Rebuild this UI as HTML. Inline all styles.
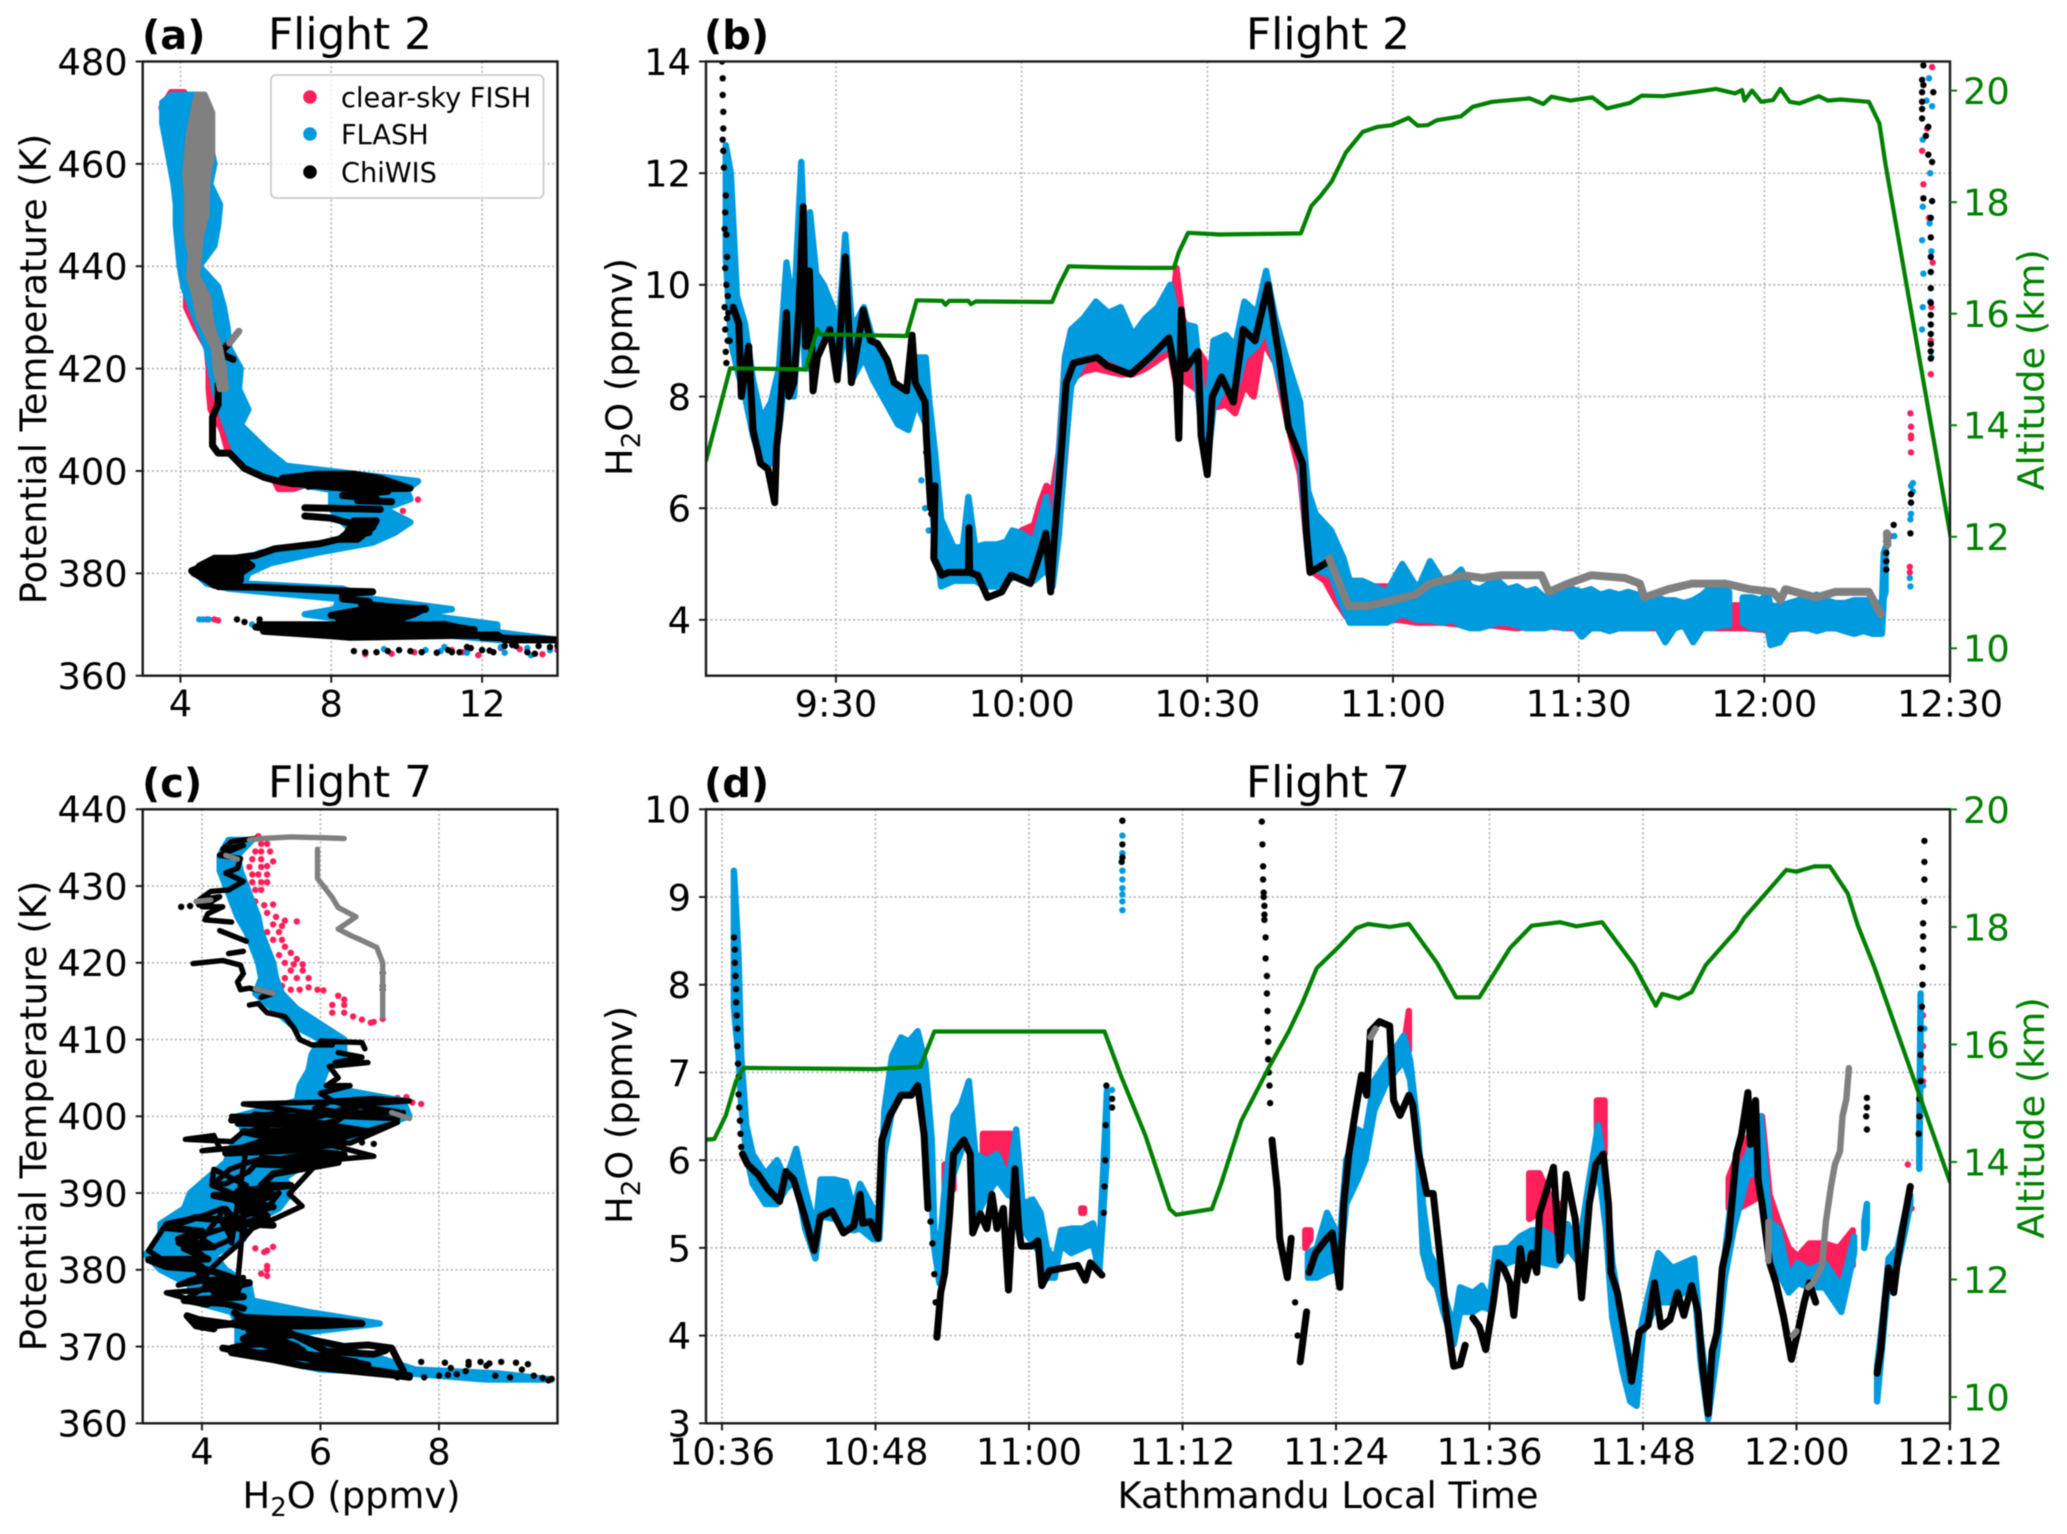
<!DOCTYPE html>
<html>
<head>
<meta charset="utf-8">
<title>Water vapour by flight</title>
<style>
html,body{margin:0;padding:0;background:#fff;}
svg{display:block;font-family:"DejaVu Sans","Liberation Sans",sans-serif;filter:blur(0.5px);}
</style>
</head>
<body>
<svg id="fig" xmlns="http://www.w3.org/2000/svg" width="2067" height="1534" viewBox="0 0 2067 1534">
<defs>
<clipPath id="clip-a"><rect x="142.7" y="61.5" width="414.8" height="614.2"/></clipPath>
<clipPath id="clip-b"><rect x="706" y="61.5" width="1244" height="614.2"/></clipPath>
<clipPath id="clip-c"><rect x="142.7" y="809.3" width="414.8" height="614"/></clipPath>
<clipPath id="clip-d"><rect x="706" y="809.3" width="1244" height="614"/></clipPath>
</defs>
<rect width="2067" height="1534" fill="#fff"/>
<g id="layer"></g>
<g fill="#000">
<text x="142" y="49" font-size="40" font-weight="bold">(a)</text>
<text x="350" y="49" font-size="43.8" text-anchor="middle">Flight 2</text>
<text x="704" y="49" font-size="40" font-weight="bold">(b)</text>
<text x="1328" y="49" font-size="43.8" text-anchor="middle">Flight 2</text>
<text x="142" y="797" font-size="40" font-weight="bold">(c)</text>
<text x="350" y="797" font-size="43.8" text-anchor="middle">Flight 7</text>
<text x="704" y="797" font-size="40" font-weight="bold">(d)</text>
<text x="1328" y="797" font-size="43.8" text-anchor="middle">Flight 7</text>
</g>
<g font-size="36.8">
<text transform="translate(46,369) rotate(-90)" text-anchor="middle">Potential Temperature (K)</text>
<text transform="translate(46,1116) rotate(-90)" text-anchor="middle">Potential Temperature (K)</text>
<text transform="translate(632,367) rotate(-90)" text-anchor="middle">H<tspan font-size="26" dy="8">2</tspan><tspan dy="-8">O (ppmv)</tspan></text>
<text transform="translate(632,1115) rotate(-90)" text-anchor="middle">H<tspan font-size="26" dy="8">2</tspan><tspan dy="-8">O (ppmv)</tspan></text>
<text transform="translate(2044,370) rotate(-90)" text-anchor="middle" fill="#008000">Altitude (km)</text>
<text transform="translate(2044,1118) rotate(-90)" text-anchor="middle" fill="#008000">Altitude (km)</text>
<text x="351.5" y="1508" text-anchor="middle">H<tspan font-size="26" dy="8">2</tspan><tspan dy="-8">O (ppmv)</tspan></text>
<text x="1328" y="1508" text-anchor="middle">Kathmandu Local Time</text>
</g>
<g>
<rect x="271" y="75" width="272.5" height="123" rx="5" fill="#fff" fill-opacity="0.8" stroke="#cccccc" stroke-width="1.8"/>
<circle cx="310" cy="97" r="6.8" fill="#ff1f5b"/>
<text x="341" y="107" font-size="27.2">clear-sky FISH</text>
<circle cx="310" cy="134" r="6.8" fill="#009ade"/>
<text x="341" y="144" font-size="27.2">FLASH</text>
<circle cx="310" cy="172" r="6.8" fill="#000"/>
<text x="341" y="182" font-size="27.2">ChiWIS</text>
</g>
</svg>
<script>
/* ===== Panel (a): Flight 2 profile, H2O (ppmv) against potential temperature (K) ===== */
const a_x_ticks=[4,8,12];
const a_y_ticks=[360,380,400,420,440,460,480];
const a_fish_theta=[474,471,465,460,450,440,436,432,428,424,420,416,412,408,404,401,398,396.5];
const a_fish_low=[3.75,3.5,3.7,3.85,4.0,4.1,4.15,4.15,4.4,4.7,4.75,4.75,4.8,5.1,5.25,6.0,6.5,6.6];
const a_fish_high=[4.1,3.9,4.0,4.1,4.4,4.5,4.5,4.7,4.9,5.2,5.2,5.1,5.2,5.4,5.8,6.5,7.6,7.0];
const a_fish_dots_h2o=[10.3,10.0,9.9,4.7,4.9,5.0,11.2,11.5,11.9,12.5,13.0,13.6,10.2,9.6,8.9,14,9.4];
const a_fish_dots_theta=[394.4,394.6,392.2,371,371,370.8,365,364.6,364,365.4,365.2,364.2,364.6,364.3,364.2,365,391.8];
const a_flash_theta=[473.5,472,468,464,460,456,452,448,444,440,436,432,428,424,420,416,412,409,404,401,398,396.3,394.5,392.6,390,388,386,384,382,380,378,377,375,373,372,370,368.5,367];
const a_flash_low=[3.78,3.52,3.52,3.62,3.72,3.82,3.88,3.88,3.93,3.98,4.08,4.28,4.49,4.69,4.79,4.9,5.05,5.2,5.45,5.8,6.6,8,8,8,8.3,8.6,8,6.1,5.5,4.4,4.7,5.3,8.2,8.1,7.3,9.3,10.2,12.4];
const a_flash_high=[4.49,4.59,4.74,4.79,4.9,4.79,5.05,5.0,4.9,4.5,5.0,5.15,5.25,5.3,5.6,5.55,5.8,5.6,6.3,6.8,10.3,10,10.1,9.4,10.1,9.7,9.1,7.6,6.4,5.8,5.7,8.3,9.1,11.2,10.3,12.4,12.4,14];
const a_flash_dots_h2o=[4.5,4.6,4.75,5.9,9.4,10.5,11,12,12.6,13.2,13.8,13.3,11.6,12.5,10.9,9.8];
const a_flash_dots_theta=[371,371,371,370,365.2,365,365.6,365,364.5,365.4,365,364,364.5,365.6,364.8,365];
const a_chiwis_h2o=[5.0,5.0,4.85,4.85,5.0,5.3,5.7,6.2,6.6,7,8,7.4,8.6,8,9.2,9,10,8.6,9.5,8.3,9.2,8.7,9.6,null,7.3,8.6,9.3,null,7.3,8,8.4,9.1,8.5,9.0,8.5,7.7,6.5,6,5,4.3,5,5.7,4.9,5.4,4.8,5,6,7,8.5,9.1,8.3,8.3,9,8.8,9.5,10.5,8,9,9.9,8.4,8.8,9.6,null,6,7,11,11.6,6.2,8,8.5,12.4,12.6,14,12];
const a_chiwis_theta=[417,413,410.5,405,403.5,403.5,400.5,398.8,398,397.5,399,397,398.5,396.8,398.3,396.5,396.6,397.5,396,395.2,394.6,394.2,394,null,392.8,392.6,392.5,null,391.2,390.8,390,389,389.5,388,387.2,385.8,384.8,383.5,382.5,380.5,381,381.5,379.5,380,378.5,377.4,377.3,377,376.5,376.4,376,375,374.5,374,373.5,373,371.8,371,371.5,372,370.5,370,null,369.5,368.8,370,369,368.7,367.8,367.5,368,367,367,367.5];
const a_chiwis_blob_theta=[399.4,398.6,397.6,396.6,null,390.3,389,387.8,386.6,null,383,381.5,380,378.6,377.6,null,373.2,372,371,null,370,369,368];
const a_chiwis_blob_low=[7.6,6.7,6.9,8.3,null,8.6,8.5,8.4,8.2,null,4.9,4.5,4.35,4.7,4.9,null,9.0,8.1,8.2,null,6.2,6.3,7.9];
const a_chiwis_blob_high=[8.6,9.3,9.7,10.1,null,9.2,9.1,8.9,8.7,null,5.6,5.9,5.6,5.6,5.4,null,10.5,10.2,9.8,null,10.8,11.8,10.5];
const a_chiwis_branch_h2o=[5.3,5.05,5.4];
const a_chiwis_branch_theta=[425,423,421.8];
const a_chiwis_dots_h2o=[5.5,5.7,6.1,6.1,8.6,8.9,9.2,9.5,9.8,10.1,10.4,10.8,11.1,11.4,11.7,12,12.3,12.6,12.9,13.2,13.5,13.8,14,11.2,11.6,12.2,12.8,13.4];
const a_chiwis_dots_theta=[371,370.5,371,370.3,364.8,364.6,364.6,364.8,365,364.8,364.6,364.5,365,364.6,365.4,365,364.6,365.8,365.8,364.6,365.8,365.6,365.8,364.6,365.6,364.9,366,364.3];
const a_gray_theta=[473.5,470,466,462,458,454,450,446,442,438,434,430,427,424,420,416];
const a_gray_low=[4.44,4.34,4.23,4.18,4.13,4.18,4.18,4.18,4.28,4.23,4.39,4.49,4.69,4.89,4.94,5.05];
const a_gray_high=[4.64,4.84,4.84,4.84,4.74,4.69,4.69,4.54,4.49,4.44,4.74,4.79,4.89,5.05,5.15,5.2];
const a_gray_branch_h2o=[5.55,5.3];
const a_gray_branch_theta=[427.3,425];

/* ===== Panel (b): Flight 2 time series, time in minutes after midnight ===== */
const b_x_ticks=[570,600,630,660,690,720,750];
const b_x_labels=["9:30","10:00","10:30","11:00","11:30","12:00","12:30"];
const b_y_ticks=[4,6,8,10,12,14];
const b_alt_ticks=[10,12,14,16,18,20];
const b_fish_time=[598,600,602,603,604,605,606,607,608,610,612,614,616,618,620,622,624,625,626,628,631,633,634.5,636,637.5,639,641,643,645,646.5,649,651,652.5,655,657,659,661,664,668,672,676,680,684,688,692,696,700,704,708,712,714,715,716.4,717,722,726,730,734,739];
const b_fish_low=[4.9,5,5,5.3,5,5,5.6,6.9,8.3,8.45,8.5,8.45,8.4,8.4,8.5,8.65,8.8,8.2,8.3,8.15,7.8,7.85,7.7,8.2,8,9,8.6,7.5,6.6,4.9,4.7,4.3,4.05,4.05,4.05,4,4,3.95,3.95,3.9,3.9,3.85,3.9,3.85,3.85,3.85,3.85,3.85,3.9,3.85,3.85,3.85,3.85,3.85,3.8,3.85,3.85,3.85,3.8];
const b_fish_high=[5.3,5.6,5.7,6.1,6.4,6.3,7,8.7,9.2,9.3,9.6,9.4,9.2,8.9,8.9,8.9,9.2,10.3,9.4,8.9,8.4,8.4,8.2,8.8,9.5,9.7,9.4,8.4,7.7,5.5,5.1,4.9,4.4,4.35,4.6,4.6,4.2,4.2,4.15,4.1,4.1,4.1,4.1,4.1,4.1,4.1,4.1,4.1,4.1,4.1,4.1,4.26,4.26,4.1,4.1,4.1,4.1,4.1,4.1];
const b_fish_dots_time=[743.6,743.7,743.7,743.7,743.7,743.5,743.5,740.4,747,746.9,747.2,746.6,746.3,745.5,745.7,747.1,746.9];
const b_fish_dots_v=[7.7,7.46,7.3,7.25,7,4.95,4.85,5.5,9.6,9,10.4,11.2,12.8,12.4,11.8,13.9,8.4];
const b_flash_time=[552.2,553,554,555.3,556.6,558,559.5,560.8,562,563.2,564.4,565,565.8,566.8,568,569.5,570.3,571.5,572.6,574.5,576,578,580,581.7,583,584.5,585,586,587,589,590.5,591.4,592.5,594,596,597.5,598.5,600,602,604,605,606,607,608,610,612,614,616,618,620,622,624,625,626,628,629,630,631,633,634.5,636,638,639.5,641,643,645,646.3,647.5,650,652,653,655,657,659,661.5,664,666,668,669.5,671,672.5,674,675.5,677,678.5,680,681.5,683,684.5,686,687.5,689,690.5,692,693.5,695,696.5,698,699.5,701,702.5,704,705.5,707,708.5,710,711.5,713,714.3,null,716.5,718,719.5,720.5,721,722.5,724,725.5,727,728.5,730,731.5,733,734.5,736,737.5,739,739.3,739.6];
const b_flash_low=[10.5,9,8.5,8,7.3,6.8,6.8,7.4,8.6,8,10,8.5,8.5,8.8,9.2,9,8.4,9.3,8.3,8.7,8.3,7.9,7.5,7.4,7.9,7.5,6.5,5.5,4.6,4.7,4.7,4.7,4.7,4.6,4.6,4.7,4.75,4.8,4.7,4.9,4.6,5.5,7,8.2,8.6,8.8,8.7,8.6,8.45,8.6,8.8,8.9,8.7,8.6,8.6,7.5,6.8,7.8,8.2,8.1,8.7,8.9,9.2,8.6,7.7,6.9,5.1,4.9,4.8,4.2,3.95,3.95,3.95,3.95,4.1,4,4,3.95,4,3.9,3.85,3.85,3.9,3.95,3.95,3.9,3.85,3.85,3.85,3.9,3.85,3.9,3.7,3.85,3.85,3.8,3.85,3.85,3.85,3.85,3.9,3.6,3.85,3.9,3.6,3.85,3.85,3.9,3.9,null,3.95,3.85,3.85,3.85,3.55,3.6,3.85,3.85,3.85,3.8,3.85,3.85,3.8,3.75,3.8,3.75,3.75,4.4,4.5];
const b_flash_high=[12.5,12,9.8,9.3,8.3,7.6,7.9,8.5,10.4,9.5,12.2,10.5,11.3,10.2,10,9.6,9,10.9,9.2,9.6,9,8.5,8.1,7.9,8.7,8.7,8,7,5.8,5.3,5.3,6.2,5.3,5.35,5.35,5.4,5.6,5.55,5.4,6.2,5.3,6.9,8.7,9.2,9.4,9.7,9.5,9.6,9.1,9.4,9.6,10,9.5,9.3,9.25,8.2,7.8,9,9.1,8.9,9.7,9.5,10.25,9.4,8.6,7.9,6.3,5.9,5.6,5.1,4.7,4.7,4.6,4.5,5,4.55,5.05,4.7,4.75,4.9,4.6,4.55,4.65,4.7,4.55,4.6,4.5,4.55,4.4,4.45,4.55,4.55,4.5,4.55,4.45,4.5,4.45,4.5,4.45,4.3,4.4,4.35,4.35,4.3,4.35,4.45,4.6,4.55,4.5,null,4.4,4.4,4.35,4.5,4.25,4.25,4.3,4.35,4.4,4.45,4.35,4.3,4.3,4.35,4.35,4.35,4.25,5.2,5.3];
const b_flash_dots_time=[744,744,743.6,743.5,743.6,743.7,743.7,743.7,741,745.5,745.6,745.7,745.5,745.6,746.8,746.7,747,747.1,746.6,746.8,747,745.6,746.2,583.8,584.4,585,585,585.6,585.9,586,586.2,586.3,586.5,586.6];
const b_flash_dots_v=[6.45,6.3,5.8,4.75,4.6,5.9,6.1,6.4,5.5,9.2,9.6,10.2,10.8,11.4,12,11.1,10.6,13.2,13.7,9.7,8.7,12.6,13.3,6.5,6.0,5.6,7,6.6,6.1,7.0,5.7,6.4,5.3,6.0,5.1];
const b_chiwis_time=[553.4,554.3,554.7,555.9,556.6,557.8,559,560.1,560.4,560.9,562,562.4,563.2,564,564.7,565.1,565.7,566.3,567,569,570.2,571.5,572.5,574.4,575.6,576.7,578.3,579.4,581.4,582.3,582.8,584.4,584.6,585.3,586,585.8,587.1,588.2,591.4,591.5,591.6,592.9,594.5,596.8,598.3,601.4,603,603.9,604.7,605.3,606,607.2,608.4,612.2,613.8,617.6,620.7,623.8,625,625.4,625.8,626.5,628.5,629,630,630.8,632.3,634.2,635.8,637.7,639.8,641.6,643.1,645.4,646,646.6,649.7];
const b_chiwis_v=[9.6,9.3,8,8.9,7.4,6.8,6.7,6.1,7.1,7.6,9.5,8,8.25,9.55,11.4,8.9,10.25,8.1,8.7,9.2,8.3,10.5,8.25,9.55,9,8.95,8.65,8.25,8.1,9.1,8.25,7.9,7.3,6,6.4,5.1,4.8,4.85,4.85,5.65,4.85,4.8,4.4,4.5,4.8,4.65,5.2,5.55,4.5,5.5,6.4,8.25,8.6,8.7,8.55,8.4,8.7,9.05,8.3,7.25,9.55,8.5,8.8,7.3,6.6,8,8.35,7.9,9.2,9,10,8.7,7.45,6.8,5.6,4.85,5.05];
const b_chiwis_dots_time=[551.6,551.7,551.7,551.8,551.8,551.7,551.8,551.9,552.2,552.1,552,552.3,552.4,552.1,552.3,552.5,552,552.4,552.1,552.5,552.2,552.3,552.6,552.8,584.6,584.9,585.2,585.4,745.7,745.5,745.7,745.5,745.5,745.5,745.5,746.5,746.1,747.3,747.1,746.5,747.1,745.7,746.9,746.9,746.9,746.9,746.9,746.9,746.9,746.9,746.9,746.9,746.9,746.9,739.7,739.7,739.7,739.7,740.9,743.6,743.7,743.7];
const b_chiwis_dots_v=[14,13.7,13.4,13.1,12.8,12.6,12.4,12.1,11.6,11.3,11,10.9,10.5,10.3,10,9.8,9.6,9.4,9.2,9,8.8,8.6,9.5,9,7,6.6,6.2,5.9,13.93,13.67,13.58,13.45,13.28,13.15,12.98,12.83,12.67,13.45,12.2,12.33,11.5,11.55,11.2,10.85,10.5,10.23,9.94,9.68,9.46,9.29,9.12,8.94,8.81,8.68,5.4,5.2,5.05,4.9,5.7,5.55,6.1,6.25];
const b_gray_time=[649.7,652.8,656,660,663.6,666,671.3,674.4,677.5,684,685.2,688.3,692,697.5,699.9,700.6,704.5,708.3,713.7,717.6,721.4,722.6,723.4,728.4,731.5,736.9,738.8,null,739.8,739.9];
const b_gray_v=[5.1,4.25,4.25,4.35,4.45,4.65,4.8,4.75,4.8,4.8,4.5,4.65,4.8,4.75,4.65,4.4,4.55,4.65,4.65,4.55,4.5,4.35,4.55,4.4,4.5,4.5,4.1,null,5.55,5.35];
const b_alt_time=[549,552.9,565.1,567,567.4,581.4,583.05,587.2,587.7,588.3,591.4,591.8,592.6,604.9,606,607.6,613.8,620.7,624.6,625.4,626.9,632,645.1,646.8,648.2,650.1,652.4,655.1,657.5,659.8,662.5,664,665.6,667.1,671,672.9,676,682.1,684.3,685.6,688.7,692.2,694.6,698.3,700.2,703.7,708.3,712.2,715.3,716.4,716.8,718,719.5,721.4,722.6,724.1,725.7,728.8,730.3,732.3,736.9,738.6,739.6,750.1];
const b_alt_km=[13.37,15.02,15,15.72,15.63,15.6,16.24,16.23,16.16,16.23,16.23,16.17,16.22,16.21,16.5,16.85,16.83,16.82,16.82,17.1,17.45,17.42,17.44,17.93,18.1,18.37,18.89,19.26,19.35,19.38,19.51,19.37,19.38,19.47,19.54,19.71,19.8,19.86,19.76,19.89,19.82,19.88,19.68,19.78,19.91,19.9,19.97,20.03,19.95,20.01,19.82,20,19.8,19.83,20.03,19.8,19.77,19.9,19.82,19.84,19.8,19.41,18.67,12];

/* ===== Panel (c): Flight 7 profile ===== */
const c_x_ticks=[4,6,8];
const c_y_ticks=[360,370,380,390,400,410,420,430,440];
const c_fish_h2o=[4.95,5.0,5.1,4.9,5.0,5.15,4.85,5.0,5.2,4.8,5.0,5.1,4.85,4.95,5.1,4.85,5.0,5.1,4.9,5.0,4.9,5.05,5.2,4.9,5.1,5.25,5.4,5.6,5.2,5.35,5.1,5.3,5.2,5.35,5.4,5.3,5.5,5.6,5.4,5.55,5.7,5.5,5.7,5.4,5.6,5.8,5.35,5.5,5.65,5.8,5.95,6.05,6.3,6.4,6.2,6.4,6.2,6.4,6.55,6.7,6.9,7.05,6.85,5.05,5.1,5.2,5.05,4.9,5.1,5.1,5.0,5.1,7.45,7.55,7.7,7.3,5.75,5.9,6.0];
const c_fish_theta=[436.5,435.5,435.5,434.5,434.5,434.5,433.5,433.5,433.2,432.5,432.5,432.6,431.5,431.5,431.5,430.5,430.5,430.5,429.5,429.5,428,427.5,427.6,427,426.5,426,425.5,425.4,425,424.8,424,424,423,423,422.1,421,421.3,420.5,420,419.8,419.8,419,419,418,418,418,417,416.5,416.5,416.8,416.5,416.4,415.7,415.2,414.5,414.5,413.5,413.5,413,412.6,412.3,412.7,412.2,418.5,382.5,383,382.3,382.8,380.5,380,379.5,379.2,402.5,401.8,401.6,402.4,395.8,395.6,400];
const c_flash_theta=[436,434,432,430,428,426,424,422,420,418,416,414,412,410,408,406,404,402,400,398,396,394,392,390,388,386,384,382,380,378,376,374.5,373,371.5,370,368.5,367,366.5,365.7];
const c_flash_low=[4.45,4.3,4.3,4.4,4.5,4.6,4.75,4.85,4.95,5,4.9,5.2,5.5,6,5.85,5.8,5.65,5.6,4.6,4.7,4.5,4.4,4.1,3.8,3.7,3.3,3.3,3.05,3.3,3.8,3.8,4.5,4.6,4.6,4.6,5.1,6,7.5,8.8];
const c_flash_high=[4.85,4.6,4.65,4.75,4.85,4.95,5,5.1,5.2,5.25,5.35,5.6,6,6.4,6.4,6.1,6,7.4,7.5,6.7,6.3,5.8,5.4,5.5,5.3,4.8,4.7,4.2,4.4,4.8,4.85,5.8,7,5.4,6.2,7,7.6,9,9.9];
const c_chiwis_h2o=[4.9,4.5,4.35,4.7,4.3,4.65,4.6,4.4,4.7,4.45,4.15,3.95,4.3,4.0,4.35,4.1,4.05,4.5,null,4.3,4.75,null,4.45,4.7,null,3.85,4.35,4.65,4.7,4.6,4.65,4.8,5.2,5.0,null,4.8,4.95,5.1,5.4,5.55,5.65,5.85,6.2,6.0,6.7,6.75,null,6.3,6.7,6.25,6.8,6.15,6.3,6.1,6.5,6.0,6.2,6.9,7.5,6.5,7.4,6.4,5.9,6.2,6.6,6.3,5.9,5.1,4.6,4.9,5.5,4.8,5.6,6.3,7.3,6.5,5.8,5.0,4.4,5.2,6.2,6.9,6.0,5.0,5.9,6.08,5.63,5.47,5.69,5.24,4.85,4.6,4.34,4.08,4.05,3.69,4.08,4.6,4.7,4.2,4.4,3.95,3.4,4.2,3.9,3.7,4.0,3.6,4.2,4.4,4.5,4.2,4.0,4.3,4.35,4.0,3.4,3.1,3.4,3.95,3.7,4.0,4.1,3.75,3.6,4.1,4.6,4.3,4.15,4.05,4.4,4.6,4.75,4.2,4.17,4.4,4.79,4.98,4.79,4.47,4.17,4.5,4.3,4.8,4.9,4.6,5.0,5.3,4.7,4.55,5.1,4.7,4.9,4.35,4.75,4.4,4.5,4.75,4.0,4.3,4.2,3.72,4.5,4.7,6.3,5.2,4.65,6.3,5.6,4.5,6,6.8,4.7,5.3,6.3,7.3,7.5,6.9,6.1,6.4];
const c_chiwis_theta=[436.2,435.8,434.8,435.3,434,433.6,432.3,431.7,430.6,429.5,429.3,428.2,428.6,427.3,427.3,426.4,425.6,425.3,null,424.2,422.8,null,421.2,421.5,null,419.9,420.3,419.7,418.6,417.5,416.5,416.7,416,415.5,null,414.5,414.7,413.5,413,411.5,410,409.3,409.3,409.8,409.6,408.8,null,408.3,407.7,407,407,406.5,405,404,404,403,402,402.3,402,401.5,400.5,400.5,401,402,401,399.5,398.8,400,399,400.3,399.8,398,398,397,399.2,396.5,397,396.8,395.3,395.6,396.2,394.8,394.2,394.6,394,395,391.2,389.9,388.3,386.7,385.4,383.2,381.5,379.6,377.7,376,375.4,377,379,378,376.5,375.8,377,377.5,380,380.8,382,383.5,385,385.5,384,383,384,387,388,387,386,382.5,381,380.5,381.3,380.5,379.5,378.5,378,378.7,379,378,376,375.5,376.5,378,391,393.1,391.2,391.2,392.8,394.4,394,393.1,391,390,389.6,390,389,388,387,390,388,389,390,389,387.5,386,385,388,383.5,396,395.5,395.8,397.5,397,396.7,398,398.5,399.3,399,398.7,399.8,400,400,402,401.6,401,400,399.7];
const c_chiwis2_h2o=[4.6,4.9,5.4,5.7,4.8,4.35,5.1,5.9,6.2,6.8,5.4,4.7,4.9,5.5,5.9,6.4,6.8,7.2,7.4,null,4.5,5.2,5.8,6.4,5.4,5.0,4.7,6.0,6.7,6.3,5.8,5.2,4.7,4.55,4.8,5.3,6.1,6.9,7.1,null,4.0,4.3,4.6,5.0,5.4,5.8,6.2,6.3,5.9,5.2,4.7,3.95,3.75,3.9,4.2,null,4.5,5.2,5.7,6.3,6.8,7.2,7.5,null];
const c_chiwis2_theta=[370,370.3,370.6,369.5,369,369.8,369,368.4,368,367.6,369.5,371,371.8,371.6,370.8,370,370.2,369.8,366.8,null,373,373,372.8,373,373.4,373.2,372.6,372.7,373,373.3,373.5,373.6,373.8,374.4,372.8,372.5,369.4,369,369.5,null,372.5,372.8,373,372.6,373.4,373,373,373.2,373.1,372.9,372.7,373.5,374,372.7,372.3,null,369.2,368.3,367.5,367,366.6,366.3,366,null];
const c_chiwis3_h2o=[4.5,5.3,6.0,6.8,5.6,4.7,5.4,6.4,5.0,4.4,5.6,6.4,5.5,4.9,5.9,6.3,5.2,5.0,5.5,4.6,5.2,4.2,4.9,5.2,4.6,5.1,4.7,5.2,3.9,3.4,4,3.6,4.2,3.7,4.1,3.1,3.4,4.1,4.5,4.1,4.8,4.2,4.7,3.7,4.4,4.7,null,4.5,5,4.7,5.5,4.8,5.6,5.2,6,6.6,5.8,6.5,7,7.5,6.4,5.6,5.2,null,4.6,6.3,4.9,6.2,4.6];
const c_chiwis3_theta=[399.5,400.3,399,398,397.5,398,396.8,396.5,396,395.2,395.6,395,394.6,393.8,393.5,394,392.5,391,391,390.2,389.8,389.7,388.6,388.2,387.8,387,386,385.8,386.8,385.5,385,384,383,382.8,381.4,381.3,380.4,380,379,378.5,378.3,377.2,376.5,376,375.6,375,null,369.8,370.5,371,371.5,372,370,369,368.8,368,368.4,367,366.7,366.2,367.5,369,370.4,null,373.2,373.1,372.8,372.8,373.6];
const c_chiwis_dots_h2o=[7.3,7.5,7.75,8,8.15,8.3,8.5,8.7,8.85,9.05,9.3,9.5,9.6,9.75,9.85,9.9,7.7,8.1,8.5,8.8,8.95,9.2,9.4,8.2,8.45,7.05,7.05,7.05,3.65,3.8,3.95,4.15,6.7,6.9];
const c_chiwis_dots_theta=[366,366,366,366.2,366.3,366.4,368,368,367.8,368,367.9,367.7,366.2,365.9,365.6,365.8,368,367.9,367.6,367.5,366.2,366,367,367.2,366.8,418.7,417,416.5,427.3,427.4,427.6,427.8,396.6,396.4];
const c_gray_h2o=[7.05,7.05,7.0,6.95,6.7,6.5,6.3,6.6,6.3,6.2,6.1,5.95,5.95,null,6.4,6.0,5.5,5.0,4.8,null,4.6,4.4,null,3.9,4.15,null,4.9,5.2,null,7.2,7.5];
const c_gray_theta=[413,420,421,422,422.9,423.6,424.4,426,427.2,428.5,429.5,431,434.8,null,436.2,436.3,436.4,436.2,436,null,433.5,434,null,428,428.2,null,416.6,416,null,400.5,399.7];

/* ===== Panel (d): Flight 7 time series ===== */
const d_x_ticks=[636,648,660,672,684,696,708,720,732];
const d_x_labels=["10:36","10:48","11:00","11:12","11:24","11:36","11:48","12:00","12:12"];
const d_y_ticks=[3,4,5,6,7,8,9,10];
const d_alt_ticks=[10,12,14,16,18,20];
const d_fish_time=[653.4,654.1,null,656.4,657.5,658.6,658.9,null,664.1,664.3,null,681.6,682,null,689.4,689.7,null,699.1,699.9,701,701.7,null,704.4,704.7,705,null,714.7,715.5,717.3,717.9,718.6,719.4,720.1,721,722.2,723.3,724.4];
const d_fish_low=[5.67,5.67,null,5.9,5.9,5.6,5.5,null,5.4,5.4,null,5.0,5.1,null,7.1,7.25,null,5.33,5.4,4.95,5.4,null,6.07,6.07,6.07,null,5.45,5.45,5.6,5.27,5.05,4.66,4.7,4.7,4.8,4.65,4.8];
const d_fish_high=[5.95,5.95,null,6.3,6.3,6.3,6.2,null,5.45,5.45,null,5.2,5.2,null,7.4,7.7,null,5.85,5.85,5.5,5.5,null,6.68,6.68,6.68,null,5.8,6.1,6.5,5.6,5.3,5.0,4.9,5.05,5.05,5.0,5.2];
const d_fish_dots_time=[728.7,728.9,729,729.9,729.9,729.9,729.9,729.7,729.7];
const d_fish_dots_v=[5.95,5.6,5.45,7.65,7.3,7.05,6.9,6.7,6.5];
const d_flash_time=[636.93,637.1,637.3,637.5,637.9,638.4,639.4,640.3,641,641.8,642.5,643.3,643.7,644.8,645.7,646.3,646.8,647.8,648.3,648.7,649.3,650,650.6,651.3,651.9,652.4,652.6,653,653.4,654.1,654.7,655.3,655.8,656.7,657.5,658.4,659,659.5,660.3,660.9,661.4,662,662.5,663.3,664.2,665,665.5,666.1,null,681.8,682.5,683.3,684.3,684.8,685.7,686.3,687,688,689.3,689.8,690.4,690.8,691.3,691.9,692.4,693.2,693.7,694.7,695.4,696,696.5,697.5,698.4,699.3,700.2,701.2,702.1,703,703.8,704.5,705.1,705.6,706.4,707,707.5,708,709.2,710.3,712,712.5,713.1,713.8,714.4,715.1,716.2,717.2,717.9,718.6,719.4,720.1,721,722.2,723.5,724,724.5,null,725.3,725.5,null,726.3,726.8,727.2,727.9,728.5,728.9,null,729.6,729.7];
const d_flash_low=[7.75,7.45,7.2,6.63,6.07,5.73,5.5,5.5,5.67,5.78,5.22,4.88,5.36,5.33,5.22,5.2,5.22,5.1,5.1,6.07,6.57,6.74,6.74,6.85,6.35,5.5,5,4.6,5.22,5.84,6.1,6.3,5.33,5.6,5.78,5.6,5.84,5.22,5.05,4.94,4.66,4.66,5.03,4.94,5,5.05,4.72,6.07,null,4.66,4.66,4.72,4.77,5.5,5.78,6,6.57,6.9,7.13,6.91,6.07,4.94,4.66,4.55,4.27,3.9,4.27,4.27,4.33,4.3,4.77,4.83,4.88,4.94,4.83,4.8,5,4.83,5.5,5.95,5.22,4.2,3.6,3.25,3.2,4.04,4.38,4.38,4.6,3.7,3.05,3.82,4.66,5.22,5.84,5.84,4.83,4.72,4.49,4.6,4.55,4.55,4.27,4.6,4.94,null,5,5.2,null,3.25,4.04,4.66,4.8,5.2,5.5,null,5.9,7.2];
const d_flash_high=[9.3,8.85,8.3,7.2,6.4,6.07,5.84,6,5.78,6.13,5.67,5.22,5.78,5.78,5.75,5.45,5.73,5.45,5.2,6.57,7.19,7.4,7.35,7.47,7.1,6.23,5.2,4.95,5.67,6.5,6.63,6.9,6.07,6,6.07,5.78,6.35,5.5,5.55,5.4,5,4.85,5.2,5.22,5.22,5.28,4.94,6.8,null,4.94,5,5.4,5.1,6,6.35,6.3,6.91,7.13,7.42,7.13,6.35,5.5,4.94,4.77,4.49,4.1,4.55,4.49,4.57,4.4,4.99,5,5.13,5.2,5.2,5.1,5.27,5,5.78,6.4,5.78,4.83,4.16,3.7,3.8,4.2,4.94,4.77,4.88,4,3.3,4.1,4.94,5.78,6.07,6.5,5.3,5.22,4.66,4.83,4.75,4.83,4.55,4.83,5.13,null,5.3,5.5,null,3.65,4.27,4.88,5,5.4,5.6,null,6.3,7.9];
const d_flash_dots_time=[667.3,667.3,667.3,667.3,667.3,667.3,667.3,667.3,667.3,666.5,730,729.9,729.8];
const d_flash_dots_v=[9.87,9.7,9.5,9.3,9.1,9.03,8.95,8.85,9.2,6.8,7.5,6.85,6.6];
const d_chiwis_time=[637.6,638,638.8,639.6,640.5,641,641.6,642.4,643.2,643.7,644.6,645.5,646.3,646.8,647,647.6,648.2,648.5,649.1,650,650.8,651.3,651.8,652.1,null,652.8,653.1,653.4,653.8,654.1,654.9,655.4,655.6,656.2,656.7,657.1,657.5,658,658.4,658.9,659.2,659.4,660.2,660.7,661,661.6,662.7,663.8,664.4,664.8,665.7,null,679,679.4,679.6,680.2,680.5,null,681.2,681.7,null,681.9,682.4,683.3,683.7,684.3,684.6,685,685.6,686,686.4,686.7,687.4,688.2,688.5,689,689.7,690,690.4,690.8,691.1,691.6,692.1,692.6,693.2,693.7,694.1,null,694.7,695.2,695.7,696.3,696.7,697.1,697.6,697.9,698.4,698.8,699.3,699.7,699.9,700.4,701,701.5,702,702.7,703.2,703.8,704.3,704.9,705.3,705.5,706,706.6,707.1,707.7,708.4,708.9,709.4,710.1,710.7,711.2,711.8,712.3,712.7,713.1,713.4,713.8,714.2,714.7,715.3,715.7,716.2,716.4,716.8,717,717.3,717.9,718.4,719,719.6,720.1,720.6,721,721.5,null,726.3,726.6,726.9,727.2,727.6,727.9,728.3,728.9];
const d_chiwis_v=[6.07,5.95,5.84,5.67,5.53,5.87,5.78,5.39,4.97,5.36,5.42,5.17,5.25,5.61,5.28,5.3,5.11,6.23,6.5,6.74,6.74,6.85,6.29,5.45,null,3.98,4.49,4.71,5.39,6.07,6.23,6.07,5.17,5.39,5.22,5.61,5.22,5.45,4.52,5.9,5.22,5.02,5.02,5.08,4.57,4.74,4.77,4.8,4.63,4.83,4.69,null,6.23,5.67,5.11,4.66,5.11,null,3.7,4.27,null,4.72,4.94,5.11,5.17,4.55,5.5,6.07,6.63,6.97,6.74,7.47,7.58,7.53,6.68,6.51,6.74,6.63,6.12,5.84,5.62,5.62,4.94,4.27,3.65,3.67,3.89,null,4.2,4.1,3.84,4.38,4.83,4.77,4.6,4.23,4.99,4.63,4.94,4.72,5.39,5.62,5.92,4.86,5.84,5.33,4.43,5.5,5.95,6.07,5.5,4.72,4.49,3.98,3.48,4.04,4.12,4.6,4.1,4.18,4.49,4.23,4.57,4.27,3.59,3.11,3.82,4.04,4.77,5.11,6.07,6.29,6.77,6.18,6.68,5.78,5.5,4.83,4.6,4.21,3.73,4.04,4.38,4.6,4.38,null,3.57,3.85,4.38,4.77,4.49,4.86,5.22,5.7];
const d_chiwis_dots_time=[636.94,637,637,637.05,637.1,637.1,637.15,637.2,637.2,637.25,637.3,637.3,637.35,637.4,637.45,637.5,667.3,667.3,667.3,667.25,666.5,666.5,678.2,678.25,678.3,678.3,678.35,678.35,678.4,678.4,678.4,678.5,678.5,678.6,678.6,678.65,678.65,678.7,678.7,678.75,678.8,678.85,680.8,681,652.3,652.45,652.6,652.7,666.05,666,665.95,665.9,665.85,725.5,725.5,725.45,725.5,730,730,730,730,729.9,729.9,729.9,729.85,729.85,729.8,729.7,729.7,729.7,729.6,729.6,729.55];
const d_chiwis_dots_v=[8.54,8.4,8.25,8.1,7.95,7.8,7.65,7.5,7.3,7.1,6.95,6.75,6.6,6.45,6.3,6.15,9.87,9.6,9.45,9.4,6.7,6.6,9.86,9.6,9.35,9.2,9.05,9,8.9,8.8,8.74,8.54,8.3,8.1,7.9,7.7,7.5,7.35,7.15,7,6.85,6.65,4.38,4.0,5.3,5.05,4.7,4.38,6.85,6.4,6,5.7,5.4,6.71,6.6,6.5,6.35,9.64,9.4,9.2,8.95,8.7,8.55,8.4,8.2,8,7.75,7.5,7.2,6.9,6.7,6.5,6.3];
const d_gray_time=[686.7,687.1,null,717.8,717.8,null,719.7,720,null,720.9,721.3,722,722.3,722.7,723,723.4,723.6,723.9,724.1];
const d_gray_v=[7.4,7.5,null,5.3,4.85,null,4,4.05,null,4.55,4.6,4.8,5.3,5.7,5.95,6.1,6.5,6.7,7.05];
const d_alt_time=[634.8,635.4,636.3,637.1,637.7,648.1,651.5,652.6,665.9,667.2,669.1,671,671.5,674.3,675,676.6,678.8,680.3,681.4,682.5,684.3,685.6,686.5,688.2,689.7,691.9,693.4,695.2,697.6,699.3,701.5,702.8,704.8,707.3,709,709.5,710.8,711.8,712.9,715.3,715.9,719.2,720,721.4,722.6,724,724.8,726.1,732];
const d_alt_km=[14.38,14.39,14.79,15.38,15.6,15.58,15.62,16.22,16.22,15.46,14.45,13.2,13.1,13.2,13.62,14.7,15.63,16.22,16.72,17.3,17.68,17.98,18.05,18,18.05,17.39,16.8,16.8,17.64,18.02,18.08,18.01,18.08,17.35,16.66,16.86,16.78,16.89,17.35,17.94,18.15,18.97,18.94,19.03,19.03,18.57,18.02,17.31,13.66];

/* ===== Rendering ===== */
const NS='http://www.w3.org/2000/svg';
const PINK='#ff1f5b',BLUE='#009ade',BLACK='#000000',GRAY='#808080',GREEN='#008000';
const MARKER=6.4;
const THICK=7;
const layer=document.getElementById('layer');
function scale(d0,d1,r0,r1){return function(v){return r0+(v-d0)*(r1-r0)/(d1-d0);};}
function isNum(v){return typeof v==='number'&&isFinite(v);}

function newGroup(parent,name,clip){
  const el=document.createElementNS(NS,'g');
  
  
  if(clip){el.setAttribute('clip-path','url(#'+clip+')');}
  parent.appendChild(el);
  return el;
}
function drawSegment(g,x1,y1,x2,y2,color,width,dash,name){
  const el=document.createElementNS(NS,'line');
  el.setAttribute('x1',x1);el.setAttribute('y1',y1);el.setAttribute('x2',x2);el.setAttribute('y2',y2);
  el.setAttribute('stroke',color);el.setAttribute('stroke-width',width);
  if(dash){el.setAttribute('stroke-dasharray',dash);}
  
  
  g.appendChild(el);
}
function drawLabel(g,x,y,text,anchor,color,name){
  const el=document.createElementNS(NS,'text');
  el.setAttribute('x',x);el.setAttribute('y',y);
  el.setAttribute('font-size','36.8');
  el.setAttribute('text-anchor',anchor);
  el.setAttribute('fill',color);
  el.textContent=text;
  
  
  g.appendChild(el);
}
/* series line: breaks on null */
function drawLine(g,xs,ys,sx,sy,color,width,name){
  let d='',pen=false;
  const n=Math.min(xs.length,ys.length);
  for(let i=0;i<n;i++){
    if(!isNum(xs[i])||!isNum(ys[i])){pen=false;continue;}
    d+=(pen?'L':'M')+sx(xs[i]).toFixed(1)+' '+sy(ys[i]).toFixed(1);
    pen=true;
  }
  const el=document.createElementNS(NS,'path');
  el.setAttribute('d',d);
  el.setAttribute('fill','none');
  el.setAttribute('stroke',color);
  el.setAttribute('stroke-width',width);
  el.setAttribute('stroke-linecap','round');
  el.setAttribute('stroke-linejoin','round');
  
  
  g.appendChild(el);
}
/* scatter points */
function drawDots(g,xs,ys,sx,sy,color,name){
  const n=Math.min(xs.length,ys.length);
  for(let i=0;i<n;i++){
    if(!isNum(xs[i])||!isNum(ys[i])){continue;}
    const el=document.createElementNS(NS,'circle');
    el.setAttribute('cx',sx(xs[i]).toFixed(1));
    el.setAttribute('cy',sy(ys[i]).toFixed(1));
    el.setAttribute('r',MARKER/2);
    el.setAttribute('fill',color);
    
    
    g.appendChild(el);
  }
}
/* dense point cloud spread between a low and a high envelope */
function drawBand(g,keys,lows,highs,pt,color,name){
  let run=[];
  function flush(){
    if(run.length===0){return;}
    let d='';
    run.forEach(function(i,j){const p=pt(keys[i],highs[i]);d+=(j?'L':'M')+p[0].toFixed(1)+' '+p[1].toFixed(1);});
    run.slice().reverse().forEach(function(i){const p=pt(keys[i],lows[i]);d+='L'+p[0].toFixed(1)+' '+p[1].toFixed(1);});
    d+='Z';
    const el=document.createElementNS(NS,'path');
    el.setAttribute('d',d);
    el.setAttribute('fill',color);
    el.setAttribute('stroke',color);
    el.setAttribute('stroke-width',MARKER);
    el.setAttribute('stroke-linejoin','round');
    
    
    g.appendChild(el);
    run=[];
  }
  for(let i=0;i<keys.length;i++){
    if(isNum(keys[i])&&isNum(lows[i])&&isNum(highs[i])){run.push(i);}else{flush();}
  }
  flush();
}
function frame(g,box,name){
  const el=document.createElementNS(NS,'rect');
  el.setAttribute('x',box.l);el.setAttribute('y',box.t);
  el.setAttribute('width',box.r-box.l);el.setAttribute('height',box.b-box.t);
  el.setAttribute('fill','none');
  el.setAttribute('stroke','#1a1a1a');
  el.setAttribute('stroke-width','2.4');
  
  
  g.appendChild(el);
}
function axes(box,sx,sy,xTicks,xLabels,yTicks,prefix){
  const grid=newGroup(layer,prefix+'-grid',null);
  xTicks.forEach(function(v){drawSegment(grid,sx(v),box.t,sx(v),box.b,'#b4b4b4','1.7','2 2.6','grid-line-x');});
  yTicks.forEach(function(v){drawSegment(grid,box.l,sy(v),box.r,sy(v),'#b4b4b4','1.7','2 2.6','grid-line-y');});
}
function axisFurniture(box,sx,sy,xTicks,xLabels,yTicks,prefix){
  const g=newGroup(layer,prefix+'-axes',null);
  frame(g,box,prefix+'-frame');
  xTicks.forEach(function(v,i){
    drawSegment(g,sx(v),box.b,sx(v),box.b+7,'#1a1a1a','2','',prefix+'-x-tick');
    drawLabel(g,sx(v),box.b+41,xLabels[i],'middle','#000',prefix+'-x-tick-label');
  });
  yTicks.forEach(function(v){
    drawSegment(g,box.l-7,sy(v),box.l,sy(v),'#1a1a1a','2','',prefix+'-y-tick');
    drawLabel(g,box.l-15,sy(v)+13.4,String(v),'end','#000',prefix+'-y-tick-label');
  });
  return g;
}
function altAxis(g,box,sa,ticks,prefix){
  ticks.forEach(function(v){
    drawSegment(g,box.r,sa(v),box.r+7,sa(v),GREEN,'2','',prefix+'-altitude-tick');
    drawLabel(g,box.r+13,sa(v)+13.4,String(v),'start',GREEN,prefix+'-altitude-tick-label');
  });
}

/* Panel geometry */
const boxA={l:142.7,r:557.5,t:61.5,b:675.7};
const boxB={l:706,r:1950,t:61.5,b:675.7};
const boxC={l:142.7,r:557.5,t:809.3,b:1423.3};
const boxD={l:706,r:1950,t:809.3,b:1423.3};

/* --- a --- */
const ax=scale(3,14,boxA.l,boxA.r),ay=scale(360,480,boxA.b,boxA.t);
axes(boxA,ax,ay,a_x_ticks,a_x_ticks,a_y_ticks,'panel-a');
const gA=newGroup(layer,'panel-a-series','clip-a');
const aPt=function(th,h){return [ax(h),ay(th)];};
drawBand(gA,a_fish_theta,a_fish_low,a_fish_high,aPt,PINK,'fish-band');
drawDots(gA,a_fish_dots_h2o,a_fish_dots_theta,ax,ay,PINK,'fish-point');
drawBand(gA,a_flash_theta,a_flash_low,a_flash_high,aPt,BLUE,'flash-band');
drawDots(gA,a_flash_dots_h2o,a_flash_dots_theta,ax,ay,BLUE,'flash-point');
drawLine(gA,a_chiwis_h2o,a_chiwis_theta,ax,ay,BLACK,THICK,'chiwis-line');
drawBand(gA,a_chiwis_blob_theta,a_chiwis_blob_low,a_chiwis_blob_high,aPt,BLACK,'chiwis-band');
drawLine(gA,a_chiwis_branch_h2o,a_chiwis_branch_theta,ax,ay,BLACK,THICK,'chiwis-branch');
drawDots(gA,a_chiwis_dots_h2o,a_chiwis_dots_theta,ax,ay,BLACK,'chiwis-point');
drawBand(gA,a_gray_theta,a_gray_low,a_gray_high,aPt,GRAY,'chiwis-cloud-band');
drawLine(gA,a_gray_branch_h2o,a_gray_branch_theta,ax,ay,GRAY,THICK,'chiwis-cloud-branch');
axisFurniture(boxA,ax,ay,a_x_ticks,a_x_ticks,a_y_ticks,'panel-a');

/* --- b --- */
const bx=scale(549,750,boxB.l,boxB.r),by=scale(3,14,boxB.b,boxB.t);
const ba=scale(10,20,648.3,90.6);
axes(boxB,bx,by,b_x_ticks,b_x_labels,b_y_ticks,'panel-b');
const gB=newGroup(layer,'panel-b-series','clip-b');
const bPt=function(t,v){return [bx(t),by(v)];};
drawBand(gB,b_fish_time,b_fish_low,b_fish_high,bPt,PINK,'fish-band');
drawDots(gB,b_fish_dots_time,b_fish_dots_v,bx,by,PINK,'fish-point');
drawBand(gB,b_flash_time,b_flash_low,b_flash_high,bPt,BLUE,'flash-band');
drawDots(gB,b_flash_dots_time,b_flash_dots_v,bx,by,BLUE,'flash-point');
drawLine(gB,b_chiwis_time,b_chiwis_v,bx,by,BLACK,THICK,'chiwis-line');
drawDots(gB,b_chiwis_dots_time,b_chiwis_dots_v,bx,by,BLACK,'chiwis-point');
drawLine(gB,b_gray_time,b_gray_v,bx,by,GRAY,THICK+1,'chiwis-cloud-line');
drawLine(gB,b_alt_time,b_alt_km,bx,ba,GREEN,4.2,'altitude-line');
const fB=axisFurniture(boxB,bx,by,b_x_ticks,b_x_labels,b_y_ticks,'panel-b');
altAxis(fB,boxB,ba,b_alt_ticks,'panel-b');

/* --- c --- */
const cx=scale(3,10,boxC.l,boxC.r),cy=scale(360,440,boxC.b,boxC.t);
axes(boxC,cx,cy,c_x_ticks,c_x_ticks,c_y_ticks,'panel-c');
const gC=newGroup(layer,'panel-c-series','clip-c');
const cPt=function(th,h){return [cx(h),cy(th)];};
drawDots(gC,c_fish_h2o,c_fish_theta,cx,cy,PINK,'fish-point');
drawBand(gC,c_flash_theta,c_flash_low,c_flash_high,cPt,BLUE,'flash-band');
drawLine(gC,c_chiwis_h2o,c_chiwis_theta,cx,cy,BLACK,5.4,'chiwis-line');
drawLine(gC,c_chiwis2_h2o,c_chiwis2_theta,cx,cy,BLACK,THICK,'chiwis-lower-line');
drawLine(gC,c_chiwis3_h2o,c_chiwis3_theta,cx,cy,BLACK,THICK,'chiwis-tangle-line');
drawDots(gC,c_chiwis_dots_h2o,c_chiwis_dots_theta,cx,cy,BLACK,'chiwis-point');
drawLine(gC,c_gray_h2o,c_gray_theta,cx,cy,GRAY,5.4,'chiwis-cloud-line');
axisFurniture(boxC,cx,cy,c_x_ticks,c_x_ticks,c_y_ticks,'panel-c');

/* --- d --- */
const dx=scale(634.75,732,boxD.l,boxD.r),dy=scale(3,10,boxD.b,boxD.t);
const da=scale(10,20,1397,809.4);
axes(boxD,dx,dy,d_x_ticks,d_x_labels,d_y_ticks,'panel-d');
const gD=newGroup(layer,'panel-d-series','clip-d');
const dPt=function(t,v){return [dx(t),dy(v)];};
drawBand(gD,d_fish_time,d_fish_low,d_fish_high,dPt,PINK,'fish-band');
drawDots(gD,d_fish_dots_time,d_fish_dots_v,dx,dy,PINK,'fish-point');
drawBand(gD,d_flash_time,d_flash_low,d_flash_high,dPt,BLUE,'flash-band');
drawDots(gD,d_flash_dots_time,d_flash_dots_v,dx,dy,BLUE,'flash-point');
drawLine(gD,d_chiwis_time,d_chiwis_v,dx,dy,BLACK,THICK,'chiwis-line');
drawDots(gD,d_chiwis_dots_time,d_chiwis_dots_v,dx,dy,BLACK,'chiwis-point');
drawLine(gD,d_gray_time,d_gray_v,dx,dy,GRAY,MARKER,'chiwis-cloud-line');
drawLine(gD,d_alt_time,d_alt_km,dx,da,GREEN,4.2,'altitude-line');
const fD=axisFurniture(boxD,dx,dy,d_x_ticks,d_x_labels,d_y_ticks,'panel-d');
altAxis(fD,boxD,da,d_alt_ticks,'panel-d');
</script>
</body>
</html>
